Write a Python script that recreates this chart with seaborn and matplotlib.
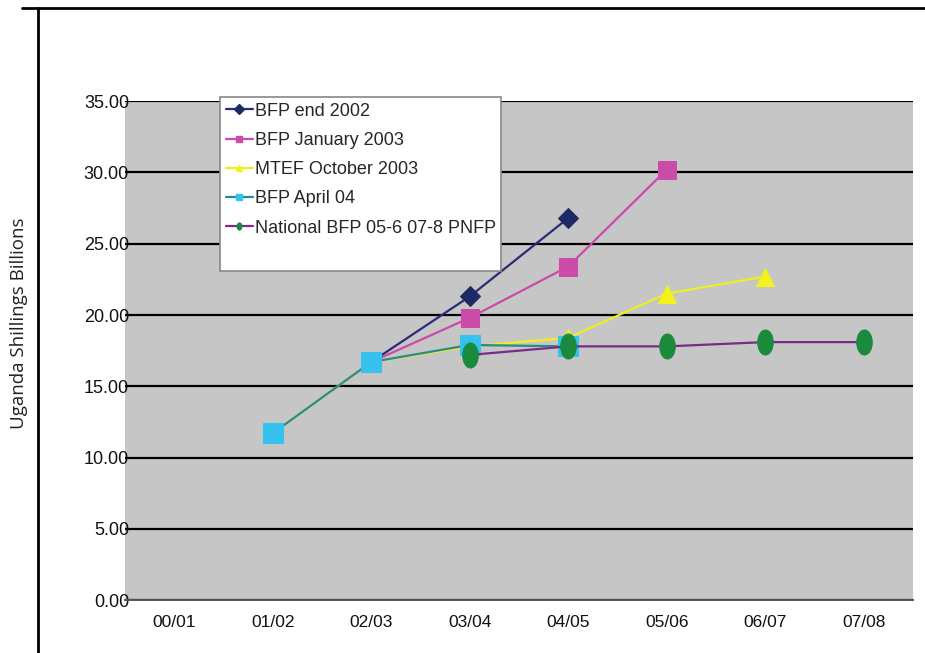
import numpy as np
import pandas as pd
import seaborn as sns
import matplotlib.pyplot as plt
from matplotlib.path import Path
from matplotlib.lines import Line2D
from matplotlib.ticker import FixedLocator

# =======================
# Data
# =======================
periods = ["00/01", "01/02", "02/03", "03/04", "04/05", "05/06", "06/07", "07/08"]

bfp_end_2002 = [np.nan, np.nan, 16.7, 21.3, 26.8, np.nan, np.nan, np.nan]
bfp_jan_2003 = [np.nan, np.nan, 16.7, 19.8, 23.4, 30.2, np.nan, np.nan]
mtef_oct_2003 = [np.nan, 11.7, 16.7, 17.8, 18.4, 21.5, 22.7, np.nan]
bfp_april_04 = [np.nan, 11.7, 16.7, 17.9, 17.8, np.nan, np.nan, np.nan]
national_bfp = [np.nan, np.nan, np.nan, 17.2, 17.8, 17.8, 18.1, 18.1]

series_names = ["BFP end 2002", "BFP January 2003", "MTEF October 2003",
                "BFP April 04", "National BFP 05-6 07-8 PNFP"]
series_values = [bfp_end_2002, bfp_jan_2003, mtef_oct_2003, bfp_april_04, national_bfp]

# tall oval marker for the last series
circ = Path.unit_circle()
oval = Path(circ.vertices * np.array([0.62, 1.0]), circ.codes)

# line colour, marker colour, marker, marker size
styles = [
    ("#2b2b7a", "#1e2a66", "D", 10),
    ("#cc4aa8", "#cc4aa8", "s", 13),
    ("#eeee22", "#f2f21c", "^", 13),
    ("#2a8a8a", "#36c2ee", "s", 14),
    ("#7a2a8a", "#1a8a3c", oval, 18),
]

rows = []
for name, vals in zip(series_names, series_values):
    for i, v in enumerate(vals):
        if not np.isnan(v):
            rows.append({"series": name, "pos": i, "value": v})
df = pd.DataFrame(rows)

# =======================
# Plot
# =======================
sns.set_style("white")
plt.rcParams["font.family"] = ["Liberation Sans", "DejaVu Sans"]

fig = plt.figure(figsize=(9.25, 6.53), dpi=100)
ax = fig.add_axes([0.135, 0.081, 0.852, 0.764])
ax.set_facecolor("#c6c6c6")

for name, (lc, mc, mk, ms) in zip(series_names, styles):
    sub = df[df["series"] == name]
    sns.lineplot(data=sub, x="pos", y="value", ax=ax, color=lc, linewidth=1.6,
                 marker=mk, markersize=ms, markerfacecolor=mc, markeredgecolor=mc,
                 label=name, legend=False)

ax.set_xlim(-0.5, 7.5)
ax.set_ylim(0, 35)
ax.set_yticks(np.arange(0, 35.1, 5))
ax.set_yticklabels([f"{v:.2f}" for v in np.arange(0, 35.1, 5)], fontsize=13, color="#111111")
ax.set_xticks(range(len(periods)))
ax.set_xticklabels(periods, fontsize=12.5, color="#111111")
ax.xaxis.set_minor_locator(FixedLocator(np.arange(-0.5, 7.6, 1)))
ax.tick_params(axis="x", which="major", length=0, pad=11)
ax.tick_params(axis="x", which="minor", length=5, color="#555555", width=1.2, direction="out")
ax.tick_params(axis="y", length=0, pad=-3)
ax.grid(axis="y", color="black", linewidth=1.6)
ax.set_axisbelow(True)
for s in ["top", "right", "left"]:
    ax.spines[s].set_visible(False)
ax.spines["bottom"].set_color("#555555")
ax.spines["bottom"].set_linewidth(1.4)
ax.set_xlabel("")
ax.set_ylabel("")

fig.text(0.021, 0.505, "Uganda Shillings Billions", rotation=90, va="center", ha="center",
         fontsize=13.5, family=["Open Sans", "DejaVu Sans"], color="#222222")

# legend with small markers, plus an empty row for the extra space at the bottom
handles = [Line2D([0], [0], color=lc, linewidth=1.6, marker=mk, markersize=5,
                  markerfacecolor=mc, markeredgecolor=mc)
           for (lc, mc, mk, ms) in styles]
handles.append(Line2D([], [], linestyle="none"))
labels = series_names + [" "]
leg = ax.legend(handles, labels, loc="upper left", bbox_to_anchor=(0.121, 1.008),
                fontsize=13, frameon=True, fancybox=False, handlelength=1.5,
                handletextpad=0.1, labelspacing=0.68, borderpad=0.3, borderaxespad=0)
leg.get_frame().set_edgecolor("#888888")
leg.get_frame().set_linewidth(1.2)
leg.get_frame().set_facecolor("white")
leg.get_frame().set_alpha(1)

# outer frame lines of the original figure
fig.add_artist(Line2D([0.041, 0.041], [0.0, 0.988], color="black", linewidth=2,
                      transform=fig.transFigure))
fig.add_artist(Line2D([0.024, 1.0], [0.988, 0.988], color="black", linewidth=2,
                      transform=fig.transFigure))

fig.savefig("out.png", dpi=100)
